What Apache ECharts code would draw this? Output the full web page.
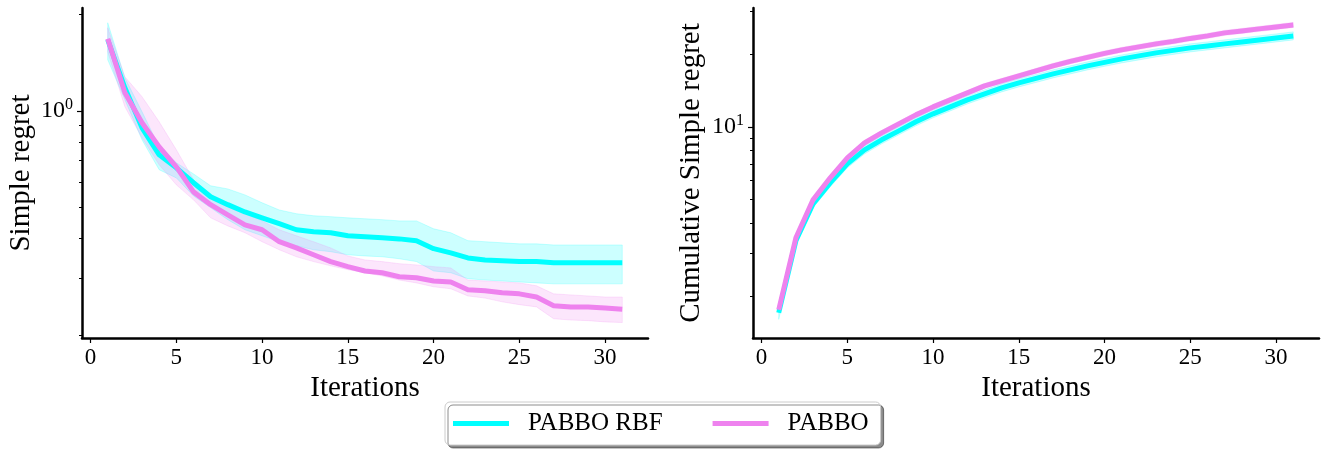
<!DOCTYPE html>
<html>
<head>
<meta charset="utf-8">
<script src="https://cdn.jsdelivr.net/npm/echarts@6/dist/echarts.min.js"></script>
<style>
html,body{margin:0;padding:0;background:#fff;}
#chart{width:1328px;height:454px;}
</style>
</head>
<body>
<div id="chart"></div>
<script>
// ---------------- data ----------------
const iterations = [1,2,3,4,5,6,7,8,9,10,11,12,13,14,15,16,17,18,19,20,21,22,23,24,25,26,27,28,29,30,31];
const xTicks = [0,5,10,15,20,25,30];
const seriesNames = ['PABBO RBF', 'PABBO'];

// left panel: simple regret
const rbfMean  = [1.664,1.179,0.885,0.729,0.664,0.597,0.540,0.510,0.484,0.464,0.445,0.426,0.420,0.417,0.408,0.405,0.402,0.399,0.394,0.372,0.361,0.348,0.343,0.341,0.339,0.339,0.336,0.336,0.336,0.336,0.336];
const rbfUpper = [1.880,1.267,0.993,0.772,0.689,0.636,0.584,0.571,0.547,0.517,0.491,0.478,0.471,0.468,0.464,0.461,0.458,0.454,0.454,0.429,0.417,0.394,0.391,0.388,0.385,0.385,0.382,0.382,0.382,0.382,0.382];
const rbfLower = [1.441,1.082,0.812,0.655,0.618,0.543,0.499,0.458,0.426,0.408,0.391,0.380,0.369,0.364,0.356,0.353,0.351,0.346,0.339,0.317,0.313,0.300,0.297,0.295,0.293,0.291,0.289,0.289,0.289,0.289,0.289];
const pabboMean  = [1.676,1.138,0.918,0.772,0.669,0.559,0.510,0.474,0.441,0.426,0.391,0.374,0.356,0.339,0.327,0.317,0.313,0.304,0.302,0.295,0.293,0.277,0.275,0.271,0.269,0.263,0.247,0.245,0.245,0.243,0.241];
const pabboUpper = [1.814,1.276,1.106,0.924,0.756,0.610,0.547,0.510,0.481,0.454,0.426,0.408,0.391,0.374,0.353,0.343,0.339,0.334,0.331,0.327,0.324,0.297,0.295,0.293,0.291,0.285,0.269,0.267,0.265,0.263,0.263];
const pabboLower = [1.527,1.029,0.824,0.679,0.588,0.528,0.464,0.438,0.417,0.391,0.369,0.351,0.339,0.329,0.320,0.313,0.306,0.297,0.291,0.283,0.279,0.265,0.261,0.254,0.249,0.245,0.225,0.223,0.222,0.220,0.219];

// right panel: cumulative simple regret
const rbfCum      = [1.704,3.380,4.806,5.871,7.034,8.035,8.839,9.627,10.49,11.32,12.09,12.93,13.69,14.49,15.20,15.86,16.56,17.20,17.87,18.48,19.10,19.65,20.22,20.71,21.21,21.61,22.03,22.45,22.88,23.32,23.77];
const rbfCumUpper = [1.78,3.51,4.99,6.10,7.31,8.35,9.18,10.00,10.90,11.76,12.56,13.43,14.22,15.06,15.79,16.48,17.21,17.87,18.57,19.20,19.84,20.42,21.01,21.52,22.04,22.45,22.89,23.33,23.77,24.23,24.70];
const rbfCumLower = [1.60,3.25,4.63,5.65,6.77,7.73,8.51,9.27,10.10,10.90,11.64,12.44,13.18,13.95,14.63,15.26,15.94,16.55,17.20,17.79,18.38,18.91,19.46,19.93,20.41,20.80,21.20,21.61,22.02,22.44,22.88];
const pabboCum      = [1.753,3.478,4.992,6.157,7.446,8.590,9.445,10.29,11.21,12.09,12.93,13.82,14.77,15.49,16.24,17.04,17.87,18.65,19.38,20.13,20.81,21.41,22.03,22.56,23.21,23.77,24.46,24.93,25.41,25.89,26.39];
const pabboCumUpper = [1.80,3.56,5.11,6.30,7.62,8.80,9.67,10.54,11.48,12.38,13.24,14.15,15.12,15.86,16.63,17.45,18.30,19.10,19.85,20.61,21.31,21.92,22.56,23.10,23.77,24.34,25.05,25.53,26.02,26.51,27.02];
const pabboCumLower = [1.71,3.40,4.88,6.01,7.27,8.39,9.22,10.05,10.95,11.81,12.63,13.50,14.42,15.13,15.86,16.64,17.45,18.21,18.93,19.66,20.32,20.91,21.51,22.03,22.67,23.21,23.89,24.35,24.81,25.28,25.77];

// tick values
const leftMajorTicks = [1];
const leftMinorTicks = [0.2,0.3,0.4,0.5,0.6,0.7,0.8,0.9,2];
const rightMajorTicks = [10];
const rightMinorTicks = [2,3,4,5,6,7,8,9,20,30];

// ---------------- style ----------------
const FONT = '"Liberation Serif", "DejaVu Serif", serif';
const CYAN = '#00ffff';
const VIOLET = '#ee82ee';
const CYAN_FILL = 'rgba(0,255,255,0.2)';
const VIOLET_FILL = 'rgba(238,130,238,0.2)';

const chart = echarts.init(document.getElementById('chart'), null, {renderer: 'canvas'});

function xAxisDef(gridIndex) {
  return {
    type: 'value', gridIndex: gridIndex, min: -0.5, max: 32.5,
    name: 'Iterations', nameLocation: 'middle', nameGap: 30,
    nameTextStyle: {fontFamily: FONT, fontSize: 29, color: '#000'},
    axisLine: {show: true, onZero: false, lineStyle: {color: '#000', width: 2.5}},
    axisTick: {show: true, length: 5, lineStyle: {color: '#000', width: 1.2}, customValues: xTicks},
    axisLabel: {show: true, margin: 8, fontFamily: FONT, fontSize: 23, color: '#000', customValues: xTicks},
    splitLine: {show: false}
  };
}

function supFormatter(v) {
  const e = Math.round(Math.log10(v));
  return '{b|10}{s|' + e + '}';
}

function yAxisMajor(gridIndex, min, max, name, nameGap, ticks) {
  return {
    type: 'log', logBase: 10, gridIndex: gridIndex, min: min, max: max,
    name: name, nameLocation: 'middle', nameGap: nameGap, nameRotate: 90,
    nameTextStyle: {fontFamily: FONT, fontSize: 29, color: '#000'},
    axisLine: {show: true, onZero: false, lineStyle: {color: '#000', width: 2.5}},
    axisTick: {show: true, length: 5, lineStyle: {color: '#000', width: 1.2}, customValues: ticks},
    axisLabel: {show: true, margin: 9, color: '#000', customValues: ticks, formatter: supFormatter,
      rich: {
        b: {fontFamily: FONT, fontSize: 24, color: '#000'},
        s: {fontFamily: FONT, fontSize: 16, color: '#000', padding: [0, 0, 12, 0]}
      }},
    splitLine: {show: false}
  };
}

function yAxisMinor(gridIndex, min, max, ticks) {
  return {
    type: 'log', logBase: 10, gridIndex: gridIndex, min: min, max: max,
    position: 'left',
    axisLine: {show: false, onZero: false},
    axisTick: {show: true, length: 3, lineStyle: {color: '#000', width: 1}, customValues: ticks},
    axisLabel: {show: false},
    splitLine: {show: false}
  };
}

function bandSeries(xi, yi, upper, lower, fill) {
  return {
    type: 'custom', xAxisIndex: xi, yAxisIndex: yi, silent: true, z: 1,
    data: iterations.map((x, i) => [x, upper[i], lower[i]]),
    encode: {x: 0, y: [1, 2]},
    renderItem: function (params, api) {
      if (params.dataIndex !== 0) return null;
      const pts = [];
      for (let i = 0; i < iterations.length; i++) pts.push(api.coord([iterations[i], upper[i]]));
      for (let i = iterations.length - 1; i >= 0; i--) pts.push(api.coord([iterations[i], lower[i]]));
      return {type: 'polygon', shape: {points: pts},
        style: {fill: fill, stroke: fill, lineWidth: 1}};
    }
  };
}

function lineSeries(name, xi, yi, values, color, z) {
  return {
    name: name, type: 'line', xAxisIndex: xi, yAxisIndex: yi, z: z,
    data: iterations.map((x, i) => [x, values[i]]),
    showSymbol: false, symbol: 'none',
    color: color,
    itemStyle: {color: color},
    lineStyle: {color: color, width: 5, cap: 'butt', join: 'round'}
  };
}

const option = {
  animation: false,
  backgroundColor: '#fff',
  grid: [
    {left: 82, top: 8, width: 566, height: 330},
    {left: 753, top: 8, width: 566, height: 330}
  ],
  xAxis: [xAxisDef(0), xAxisDef(1)],
  yAxis: [
    yAxisMajor(0, 0.196, 2.09, 'Simple regret', 46, leftMajorTicks),
    yAxisMinor(0, 0.196, 2.09, leftMinorTicks),
    yAxisMajor(1, 1.34, 31.0, 'Cumulative Simple regret', 47, rightMajorTicks),
    yAxisMinor(1, 1.34, 31.0, rightMinorTicks)
  ],
  legend: {
    data: seriesNames,
    left: 445, top: 402,
    orient: 'horizontal',
    icon: 'rect', itemWidth: 56, itemHeight: 5, itemGap: 50,
    padding: [9, 12, 9, 8],
    backgroundColor: '#fff', borderColor: '#cccccc', borderWidth: 1, borderRadius: 5,
    shadowColor: 'rgba(0,0,0,0.45)', shadowOffsetX: 3, shadowOffsetY: 3, shadowBlur: 0,
    formatter: function (n) { return '{t|' + n + '}'; },
    textStyle: {fontFamily: FONT, fontSize: 25, color: '#000',
      rich: {t: {fontFamily: FONT, fontSize: 25, color: '#000', padding: [0, 0, 0, 14]}}},
    selectedMode: false
  },
  series: [
    bandSeries(0, 0, rbfUpper, rbfLower, CYAN_FILL),
    lineSeries(seriesNames[0], 0, 0, rbfMean, CYAN, 2),
    bandSeries(0, 0, pabboUpper, pabboLower, VIOLET_FILL),
    lineSeries(seriesNames[1], 0, 0, pabboMean, VIOLET, 3),
    bandSeries(1, 2, rbfCumUpper, rbfCumLower, CYAN_FILL),
    lineSeries(seriesNames[0], 1, 2, rbfCum, CYAN, 2),
    bandSeries(1, 2, pabboCumUpper, pabboCumLower, VIOLET_FILL),
    lineSeries(seriesNames[1], 1, 2, pabboCum, VIOLET, 3)
  ]
};
chart.setOption(option);
</script>
</body>
</html>
